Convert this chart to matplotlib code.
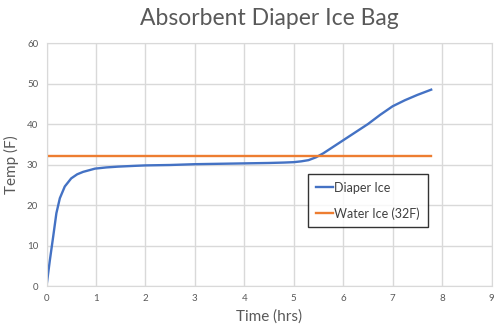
import numpy as np
import matplotlib.pyplot as plt

plt.rcParams['font.family'] = ['Lato', 'DejaVu Sans']

# diaper ice temperature readings
hours = [0, 0.067, 0.135, 0.2, 0.27, 0.37, 0.5, 0.62, 0.74, 0.98, 1.21, 1.45,
         1.8, 2.0, 2.5, 3.0, 3.5, 4.0, 4.5, 4.8, 5.0, 5.15, 5.3,
         5.45, 5.6, 5.75, 6.0, 6.25, 6.5, 6.75, 7.0, 7.25, 7.5, 7.78]
temp = [0, 6.3, 12.2, 18.0, 21.7, 24.6, 26.6, 27.6, 28.2, 29.0, 29.3, 29.5,
        29.7, 29.8, 29.9, 30.1, 30.2, 30.3, 30.4, 30.5, 30.6, 30.8, 31.1,
        31.8, 32.8, 34.0, 36.0, 38.0, 40.0, 42.3, 44.4, 45.9, 47.2, 48.5]

# reference line for plain water ice
water_hours = [0, 7.78]
water_temp = [32, 32]

fig = plt.figure(figsize=(5, 3.24), dpi=100)
ax = fig.add_axes([0.093, 0.117, 0.89, 0.75])

ax.plot(hours, temp, color='#4472C4', lw=1.7, label='Diaper Ice')
ax.plot(water_hours, water_temp, color='#ED7D31', lw=1.7, label='Water Ice (32F)')

ax.set_xlim(0, 9)
ax.set_ylim(0, 60)
ax.set_xticks(range(0, 10))
ax.set_yticks(range(0, 61, 10))
ax.grid(color='#d9d9d9', lw=1)
ax.set_axisbelow(True)
for s in ax.spines.values():
    s.set_color('#d9d9d9')
ax.tick_params(length=0, labelsize=7, colors='#595959', pad=6)

ax.set_title('Absorbent Diaper Ice Bag', fontsize=16.5, color='#595959', pad=13)
ax.set_xlabel('Time (hrs)', fontsize=11, color='#595959', labelpad=4)
ax.set_ylabel('Temp (F)', fontsize=11, color='#595959', labelpad=6)

leg = ax.legend(loc='upper left', bbox_to_anchor=(0.588, 0.461), frameon=True,
                fancybox=False, edgecolor='black', fontsize=9, handlelength=1.4,
                handletextpad=0.1, labelspacing=1.1, borderpad=0.6,
                borderaxespad=0)
leg.get_frame().set_linewidth(1.0)
for t in leg.get_texts():
    t.set_color('#404040')

fig.savefig('out.png', dpi=100)
